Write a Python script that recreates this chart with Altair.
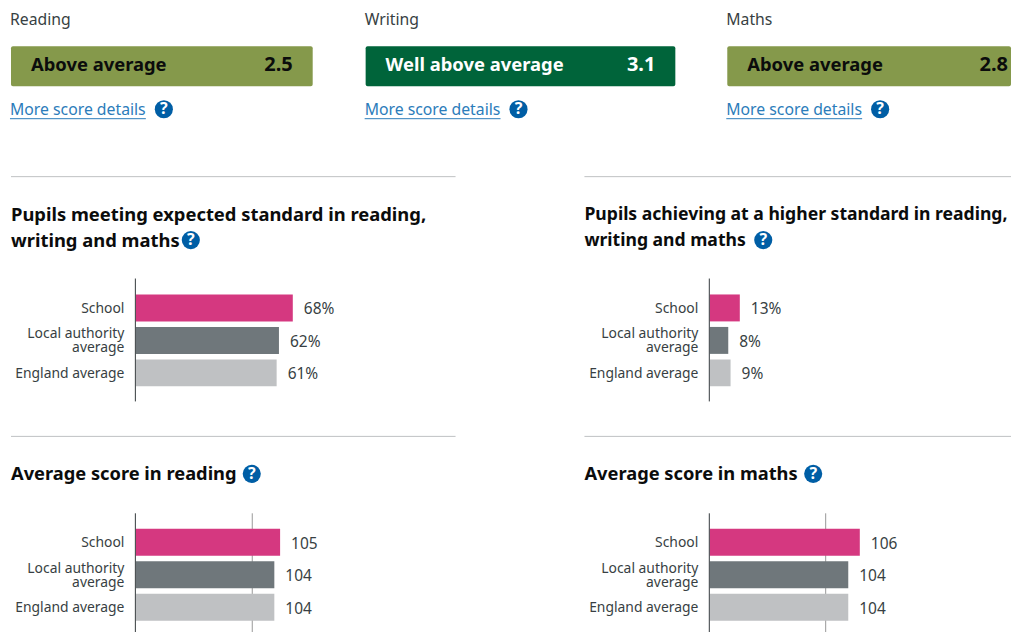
import altair as alt
import pandas as pd

FONT = "Noto Sans"
TEXT = "#383f43"
DARK = "#0b0c0c"
ICON = "#005ea5"
LINK = "#2b7cba"

# ---- data ----
categories = ["School", "Local authority average", "England average"]
bar_colors = ["#d53880", "#6f777b", "#bfc1c3"]

subjects = ["Reading", "Writing", "Maths"]
bands = ["Above average", "Well above average", "Above average"]
scores = ["2.5", "3.1", "2.8"]

expected = [68, 62, 61]
higher = [13, 8, 9]
read_avg = [105, 104, 104]
maths_avg = [106, 104, 104]

title_expected = ["Pupils meeting expected standard in reading,", "writing and maths"]
title_higher = ["Pupils achieving at a higher standard in reading,", "writing and maths"]
title_read = ["Average score in reading"]
title_maths = ["Average score in maths"]

# ---- layout (separate from the values) ----
card_x = [(3, 305), (358, 668), (720, 1004)]
score_right = [285, 648, 1001]
card_colors = ["#85994b", "#00643a", "#85994b"]
card_ink = [DARK, "#ffffff", DARK]


def txt(s, x, y, size, color, weight="normal", align="left"):
    return alt.Chart().mark_text(
        font=FONT, fontSize=size, color=color, fontWeight=weight,
        align=align, baseline="middle",
    ).encode(x=alt.value(x), y=alt.value(y), text=alt.value(s))


def icon(x, y):
    c = alt.Chart().mark_point(
        filled=True, shape="circle", size=330, color=ICON, opacity=1, strokeWidth=0
    ).encode(x=alt.value(x), y=alt.value(y))
    return [c, txt("?", x, y, 16, "#ffffff", "bold", "center")]


top_layers = []
for i, subj in enumerate(subjects):
    x1, x2 = card_x[i]
    top_layers.append(txt(subj, x1 - 1, 11.5, 15.8, TEXT))
    top_layers.append(
        alt.Chart().mark_rect(color=card_colors[i], cornerRadius=2).encode(
            x=alt.value(x1), x2=alt.value(x2), y=alt.value(38), y2=alt.value(78)
        )
    )
    top_layers.append(txt(bands[i], x1 + 20, 57, 18.4, card_ink[i], "bold"))
    top_layers.append(txt(scores[i], score_right[i], 57, 20, card_ink[i], "bold", "right"))
    top_layers.append(txt("More score details", x1 - 1, 102, 15.8, LINK))
    top_layers.append(
        alt.Chart().mark_rule(color=LINK, strokeWidth=1).encode(
            x=alt.value(x1 - 1), x2=alt.value(x1 + 135), y=alt.value(110.5)
        )
    )
    top_layers += icon(x1 + 153, 101)

top = alt.layer(*top_layers).properties(width=448, height=158)
top_right = alt.Chart().mark_rule(opacity=0).encode(
    x=alt.value(0), y=alt.value(0)
).properties(width=428, height=158)


def panel(values, labels, domain, grid, width, axis_x, height, title, title_y,
          divider_y, divider_x2, icon_x, left=3, title_size=18.3):
    df = pd.DataFrame({"cat": categories, "v": values, "label": labels, "base": domain[0]})
    if height == 123:
        yscale = alt.Scale(paddingInner=0.17, paddingOuter=0.477, align=0.53)
    else:
        yscale = alt.Scale(paddingInner=0.17, paddingOuter=0.415, align=0.59)
    xaxis = (
        alt.Axis(values=grid, grid=True, gridColor="#999999", gridWidth=1,
                 labels=False, ticks=False, domain=False, title=None)
        if grid else None
    )
    x = alt.X("v:Q", scale=alt.Scale(domain=domain, range=[axis_x + 1, axis_x + 232]),
              axis=xaxis)
    y = alt.Y(
        "cat:N", sort=categories, scale=yscale,
        axis=alt.Axis(
            title=None, ticks=False, domain=True, domainColor="#33393c",
            domainWidth=1, labelPadding=11, labelFont=FONT, labelFontSize=13.9,
            labelColor=TEXT, labelLimit=200, offset=-axis_x, zindex=1,
            labelLineHeight=14,
            labelOffset=alt.expr("datum.value == 'Local authority average' ? -6 : 1"),
            labelExpr="datum.label == 'Local authority average' ? ['Local authority','average'] : datum.label",
        ),
    )
    bars = alt.Chart(df).mark_bar().encode(
        x=x, x2=alt.X2("base:Q"), y=y,
        color=alt.Color("cat:N", sort=categories,
                        scale=alt.Scale(domain=categories, range=bar_colors), legend=None),
    )
    vals = alt.Chart(df).mark_text(
        align="left", baseline="middle", dx=11, dy=1.5, font=FONT, fontSize=15.5, color=TEXT
    ).encode(x=x, y=y, text="label:N")
    layers = [bars, vals]
    layers.append(
        alt.Chart().mark_rule(color="#bfc1c3", strokeWidth=1).encode(
            x=alt.value(left), x2=alt.value(divider_x2), y=alt.value(divider_y)
        )
    )
    for k, line in enumerate(title):
        layers.append(txt(line, left, title_y + 1 + 26 * k, title_size, DARK, "bold"))
    layers += icon(icon_x, title_y + 26 * (len(title) - 1))
    return alt.layer(*layers).properties(width=width, height=height)


L_W, R_W = 448, 428
p1 = panel(expected, [f"{v}%" for v in expected], [0, 100], None, L_W, 127, 123,
           title_expected, -64, -101.5, 448, 183, title_size=18.4)
p2 = panel(higher, [f"{v}%" for v in higher], [0, 100], None, R_W, 125.5, 123,
           title_higher, -64, -101.5, 428, 180, left=1, title_size=17.6)
p3 = panel(read_avg, [str(v) for v in read_avg], [80, 120], [100], L_W, 127, 119,
           title_read, -39, -76.5, 448, 244)
p4 = panel(maths_avg, [str(v) for v in maths_avg], [80, 120], [100], R_W, 125.5, 119,
           title_maths, -39, -76.5, 428, 230, left=1)

chart = (
    alt.concat(top, top_right, p1, p2, p3, p4, columns=2,
               spacing={"row": 112, "column": 128}, bounds="flush")
    .properties(padding=0, background="#ffffff")
    .resolve_scale(color="independent")
    .configure_view(strokeWidth=0)
)

chart.save("out.html", embed_options={"renderer": "svg", "actions": False})
